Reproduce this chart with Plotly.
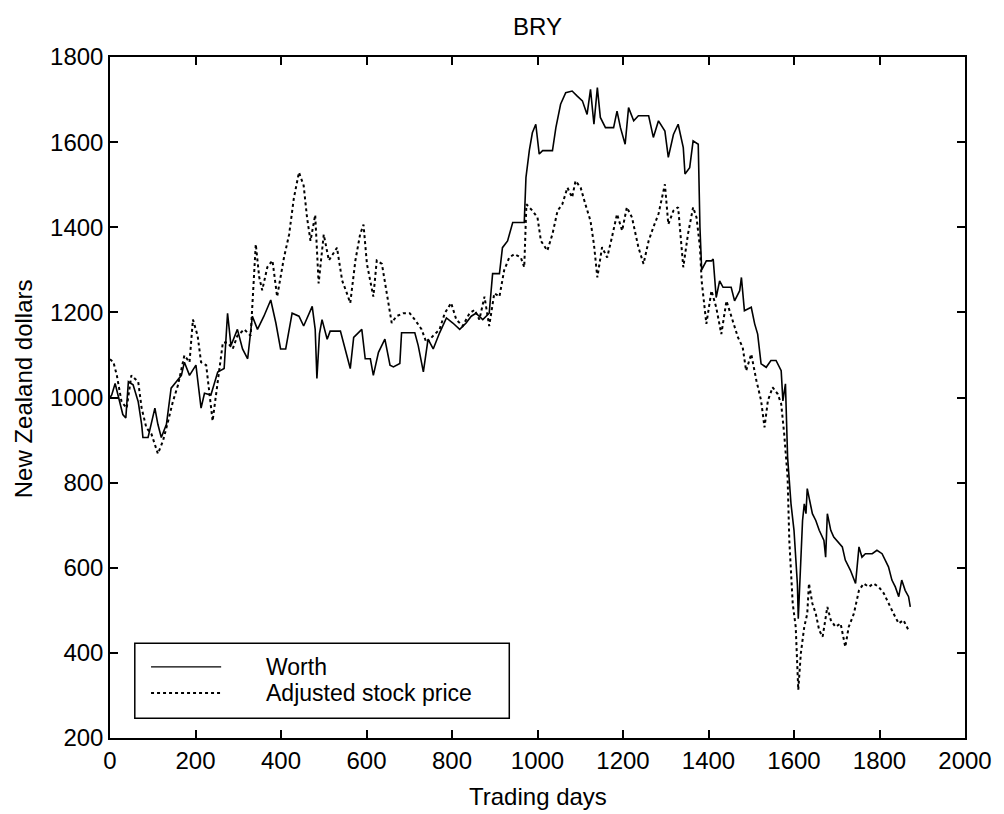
import plotly.graph_objects as go

# ---- data ----
worth_days = [0, 4, 12, 23, 30, 37, 43, 54, 66, 74, 77, 89, 105, 112, 120, 132, 143, 155, 167, 174,
              186, 201, 213, 221, 236, 252, 267, 275, 283, 298, 310, 322, 333, 345, 360, 376, 388, 399,
              411, 426, 442, 453, 473, 480, 484, 490, 496, 508, 515, 539, 550, 562, 570, 589, 597, 609,
              616, 628, 643, 655, 663, 678, 682, 713, 721, 733, 744, 756, 771, 787, 802, 818, 833, 845,
              856, 872, 887, 895, 911, 918, 930, 942, 969, 973, 981, 988, 996, 1004, 1012, 1035, 1043,
              1054, 1066, 1081, 1093, 1105, 1116, 1124, 1132, 1140, 1147, 1159, 1178, 1186, 1194, 1205,
              1213, 1225, 1236, 1260, 1271, 1283, 1298, 1306, 1318, 1329, 1341, 1345, 1356, 1364, 1376,
              1380, 1384, 1395, 1407, 1411, 1418, 1426, 1434, 1453, 1461, 1473, 1477, 1484, 1500, 1508,
              1515, 1523, 1535, 1546, 1558, 1570, 1574, 1580, 1585, 1593, 1600, 1604, 1608, 1610, 1612,
              1616, 1620, 1624, 1628, 1631, 1637, 1643, 1651, 1659, 1670, 1674, 1678, 1686, 1693, 1705,
              1713, 1720, 1732, 1744, 1752, 1759, 1767, 1783, 1794, 1806, 1813, 1821, 1829, 1837, 1845,
              1852, 1860, 1868, 1872]
worth_vals = [1000, 1006, 1033, 990, 960, 952, 1037, 1030, 990, 937, 906, 906, 975, 937, 906, 937, 1022,
              1037, 1052, 1083, 1052, 1076, 975, 1010, 1006, 1060, 1068, 1198, 1122, 1160, 1114, 1091,
              1191, 1160, 1191, 1229, 1175, 1114, 1114, 1198, 1191, 1168, 1214, 1160, 1045, 1150, 1183,
              1137, 1156, 1156, 1114, 1068, 1141, 1160, 1091, 1091, 1052, 1106, 1137, 1076, 1072, 1080,
              1152, 1152, 1122, 1060, 1137, 1114, 1152, 1187, 1175, 1160, 1175, 1191, 1198, 1183, 1198,
              1291, 1291, 1352, 1368, 1411, 1411, 1517, 1581, 1622, 1642, 1572, 1580, 1580, 1634, 1689,
              1716, 1720, 1708, 1697, 1665, 1724, 1642, 1728, 1658, 1634, 1634, 1673, 1634, 1595, 1681,
              1650, 1662, 1662, 1611, 1650, 1626, 1564, 1618, 1642, 1587, 1525, 1540, 1603, 1595, 1400,
              1300, 1321, 1321, 1325, 1235, 1274, 1259, 1259, 1227, 1251, 1282, 1204, 1212, 1173, 1149,
              1079, 1071, 1087, 1087, 1063, 992, 1032, 860, 750, 688, 633, 560, 480, 532, 600, 711, 750,
              727, 786, 758, 727, 711, 688, 664, 625, 727, 688, 672, 657, 649, 618, 594, 563, 649, 625,
              633, 633, 641, 633, 618, 602, 571, 555, 532, 571, 547, 532, 508]

price_days = [0, 8, 16, 27, 39, 50, 66, 74, 85, 97, 112, 124, 136, 147, 159, 174, 186, 194, 205, 213,
              225, 240, 252, 264, 275, 287, 298, 314, 329, 341, 349, 356, 368, 380, 391, 407, 419, 430,
              442, 453, 461, 469, 480, 488, 500, 512, 531, 543, 554, 562, 574, 585, 593, 601, 616, 624,
              636, 647, 659, 670, 686, 701, 713, 729, 740, 756, 771, 783, 798, 810, 825, 841, 853, 864,
              876, 887, 899, 911, 922, 934, 946, 961, 969, 974, 988, 1000, 1008, 1023, 1035, 1047, 1058,
              1070, 1081, 1089, 1101, 1112, 1124, 1132, 1140, 1151, 1163, 1174, 1186, 1198, 1209, 1221,
              1236, 1248, 1260, 1271, 1283, 1298, 1306, 1318, 1329, 1341, 1352, 1364, 1372, 1380, 1384,
              1395, 1407, 1418, 1430, 1442, 1457, 1469, 1480, 1488, 1500, 1512, 1523, 1531, 1539, 1550,
              1562, 1570, 1577, 1585, 1589, 1597, 1604, 1608, 1610, 1616, 1624, 1631, 1635, 1643, 1651,
              1659, 1667, 1678, 1686, 1697, 1709, 1720, 1728, 1740, 1752, 1763, 1775, 1786, 1798, 1810,
              1821, 1833, 1845, 1856, 1868]
price_vals = [1090, 1083, 1052, 990, 975, 1052, 1037, 975, 929, 914, 868, 898, 945, 990, 1029, 1099,
              1083, 1183, 1145, 1083, 1076, 945, 1037, 1129, 1129, 1114, 1145, 1160, 1145, 1360, 1283,
              1252, 1306, 1322, 1237, 1329, 1383, 1468, 1529, 1498, 1422, 1368, 1429, 1268, 1383, 1322,
              1352, 1275, 1245, 1222, 1322, 1383, 1406, 1314, 1237, 1322, 1314, 1245, 1175, 1191, 1198,
              1198, 1183, 1160, 1129, 1145, 1160, 1198, 1222, 1183, 1168, 1198, 1206, 1183, 1237, 1168,
              1245, 1237, 1299, 1329, 1337, 1329, 1306, 1454, 1439, 1423, 1368, 1345, 1384, 1439, 1454,
              1493, 1470, 1509, 1493, 1454, 1415, 1360, 1282, 1353, 1329, 1376, 1431, 1392, 1447, 1423,
              1353, 1314, 1368, 1400, 1431, 1501, 1407, 1439, 1447, 1306, 1384, 1447, 1423, 1353, 1274,
              1173, 1251, 1212, 1149, 1227, 1180, 1141, 1118, 1063, 1102, 1040, 993, 930, 993, 1024,
              1008, 985, 915, 813, 664, 516, 461, 336, 313, 399, 461, 492, 563, 516, 492, 453, 438, 508,
              477, 461, 469, 414, 461, 492, 547, 563, 555, 563, 555, 540, 516, 492, 469, 477, 453]

x_ticks = [0, 200, 400, 600, 800, 1000, 1200, 1400, 1600, 1800, 2000]
y_ticks = [200, 400, 600, 800, 1000, 1200, 1400, 1600, 1800]
legend_labels = ["Worth", "Adjusted stock price"]

FONT = "Liberation Sans, Arial, Helvetica, sans-serif"
FS = 24

fig = go.Figure()
fig.add_trace(go.Scatter(x=worth_days, y=worth_vals, mode="lines", name=legend_labels[0],
                         line=dict(color="black", width=1.6), showlegend=False))
fig.add_trace(go.Scatter(x=price_days, y=price_vals, mode="lines", name=legend_labels[1],
                         line=dict(color="black", width=2, dash="dot"), showlegend=False))

axis_common = dict(showgrid=False, zeroline=False, showline=True, linecolor="black", linewidth=1.5,
                   mirror="ticks", ticks="inside", ticklen=8, tickwidth=1.5, tickcolor="black",
                   tickfont=dict(family=FONT, size=FS, color="black"))
fig.update_xaxes(range=[0, 2000], tickvals=x_ticks, ticktext=[str(v) for v in x_ticks], **axis_common)
fig.update_yaxes(range=[200, 1800], tickvals=y_ticks, ticktext=[str(v) for v in y_ticks], **axis_common)

# axis titles
fig.add_annotation(xref="paper", yref="paper", x=0.5, y=-0.0865, text="Trading days", showarrow=False,
                   xanchor="center", yanchor="middle", font=dict(family=FONT, size=FS, color="black"))
fig.add_annotation(xref="paper", yref="paper", x=-0.101, y=0.513, text="New Zealand dollars",
                   showarrow=False, textangle=-90, xanchor="center", yanchor="middle",
                   font=dict(family=FONT, size=FS, color="black"))

# manual legend box (paper coords)
fig.add_shape(type="rect", xref="paper", yref="paper", x0=0.029, x1=0.467, y0=0.029, y1=0.139,
              line=dict(color="black", width=1.5), fillcolor="white", layer="above")
fig.add_shape(type="line", xref="paper", yref="paper", x0=0.048, x1=0.130, y0=0.1043, y1=0.1043,
              line=dict(color="black", width=1.2), layer="above")
fig.add_shape(type="line", xref="paper", yref="paper", x0=0.048, x1=0.130, y0=0.0661, y1=0.0661,
              line=dict(color="black", width=2, dash="dot"), layer="above")
fig.add_annotation(xref="paper", yref="paper", x=0.180, y=0.1043, text=legend_labels[0], showarrow=False,
                   xanchor="left", yanchor="middle", font=dict(family=FONT, size=23, color="black"))
fig.add_annotation(xref="paper", yref="paper", x=0.180, y=0.0661, text=legend_labels[1], showarrow=False,
                   xanchor="left", yanchor="middle", font=dict(family=FONT, size=23, color="black"))

# page body has an 8px margin, so the figure is 8px smaller and offsets are reduced accordingly
fig.update_layout(
    width=996, height=806,
    margin=dict(l=102, r=33, t=49, b=76),
    paper_bgcolor="white", plot_bgcolor="white",
    title=dict(text="BRY", x=0.5, xref="paper", y=1 - 19 / 806, yanchor="middle",
               font=dict(family=FONT, size=FS, color="black")),
    showlegend=False,
)

fig.write_html("out.html")
